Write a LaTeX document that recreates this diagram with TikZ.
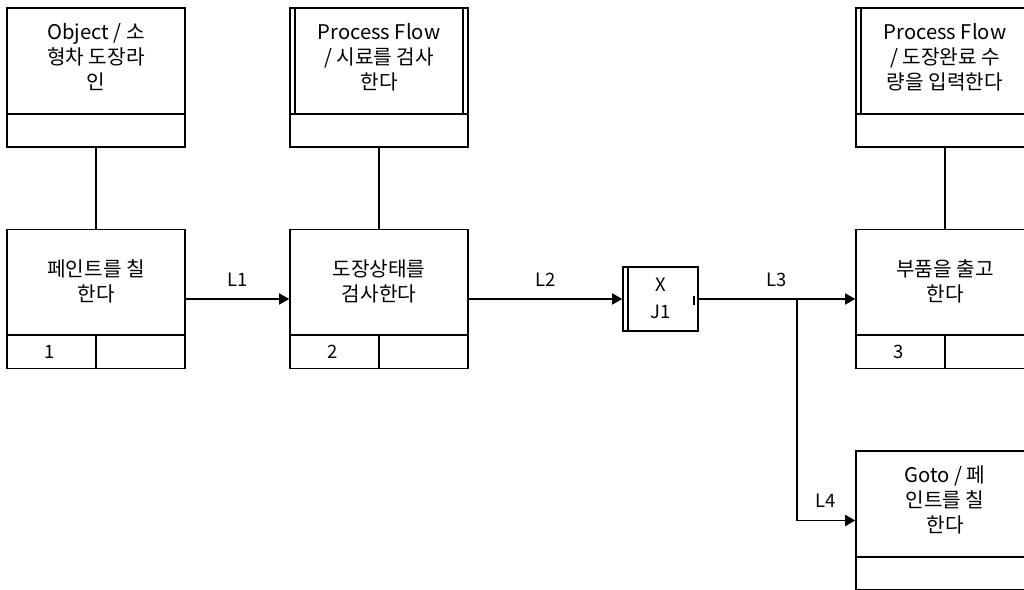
\documentclass[tikz,border=0pt]{standalone}
\usepackage{fontspec}
\setmainfont{Noto Sans CJK KR}
\usetikzlibrary{arrows.meta, positioning, calc}

\begin{document}
\begin{tikzpicture}[
    x=0.02cm, y=-0.02cm,
    >={Triangle[length=0.2cm, width=0.22cm]},
    every node/.style={font=\fontsize{11.5}{14.2}\selectfont},
]
% ============================================================
% Styles
% ============================================================
\tikzset{
    unitbox/.style={
        draw,
        line width=0.9pt,
        minimum width=3.56cm,
        minimum height=2.78cm,
        inner sep=0pt,
    },
    junction/.style={draw, line width=0.9pt, minimum width=1.5cm, minimum height=1.28cm, inner sep=0pt},
    title/.style={align=center},
    tag/.style={font=\fontsize{10.5}{12}\selectfont},
    rule/.style={line width=0.9pt},
    link/.style={->, line width=0.9pt},
}
\def\strip{34}
\def\inset{6}

% page (pixel units, y down)
\clip (0,0) rectangle (1024,590);
\fill[white] (0,0) rectangle (1024,590);

% ============================================================
% Top row: referenced objects / process flows
% ============================================================
% Object
\node[unitbox] (obj) at (96, 77.5) {};
\draw[rule] ($(obj.south west)+(0,-\strip)$) -- ($(obj.south east)+(0,-\strip)$);
\node[title] at ($(obj.north)+(0,50)$) {Object / 소\\형차 도장라\\인};
% Process Flow 1
\node[unitbox] (pf1) at (379, 77.5) {};
\draw[rule] ($(pf1.south west)+(0,-\strip)$) -- ($(pf1.south east)+(0,-\strip)$);
\draw[rule] ($(pf1.north west)+(\inset,0)$) -- ($(pf1.south west)+(\inset,-\strip)$);
\draw[rule] ($(pf1.north east)+(-\inset,0)$) -- ($(pf1.south east)+(-\inset,-\strip)$);
\node[title] at ($(pf1.north)+(0,50)$) {Process Flow\\/ 시료를 검사\\한다};
% Process Flow 2
\node[unitbox] (pf2) at (945, 77.5) {};
\draw[rule] ($(pf2.south west)+(0,-\strip)$) -- ($(pf2.south east)+(0,-\strip)$);
\draw[rule] ($(pf2.north west)+(\inset,0)$) -- ($(pf2.south west)+(\inset,-\strip)$);
\draw[rule] ($(pf2.north east)+(-\inset,0)$) -- ($(pf2.south east)+(-\inset,-\strip)$);
\node[title] at ($(pf2.north)+(0,50)$) {Process Flow\\/ 도장완료 수\\량을 입력한다};

% ============================================================
% Middle row: units of behaviour
% ============================================================
% Box 1
\node[unitbox] (b1) at (96, 299) {};
\draw[rule] ($(b1.south west)+(0,-\strip)$) -- ($(b1.south east)+(0,-\strip)$);
\draw[rule] ($(b1.south)+(0,-\strip)$) -- (b1.south);
\node[title] at ($(b1.north)+(0,52.5)$) {페인트를 칠\\한다};
\node[tag] at ($(b1.south)+(-46,-17)$) {1};
% Box 2
\node[unitbox] (b2) at (379, 299) {};
\draw[rule] ($(b2.south west)+(0,-\strip)$) -- ($(b2.south east)+(0,-\strip)$);
\draw[rule] ($(b2.south)+(0,-\strip)$) -- (b2.south);
\node[title] at ($(b2.north)+(0,52.5)$) {도장상태를\\검사한다};
\node[tag] at ($(b2.south)+(-46,-17)$) {2};
% Junction J1
\node[junction] (j1) at (660.5, 299) {};
\draw[rule] ($(j1.north west)+(\inset,0)$) -- ($(j1.south west)+(\inset,0)$);
\draw[rule] ($(j1.east)+(-5,-3)$) -- ($(j1.east)+(-5,6)$);
\node[tag] at ($(j1.center)+(0,-14)$) {X};
\node[tag] at ($(j1.center)+(0,13)$) {J1};
% Box 3
\node[unitbox] (b3) at (945, 299) {};
\draw[rule] ($(b3.south west)+(0,-\strip)$) -- ($(b3.south east)+(0,-\strip)$);
\draw[rule] ($(b3.south)+(0,-\strip)$) -- (b3.south);
\node[title] at ($(b3.north)+(0,52.5)$) {부품을 출고\\한다};
\node[tag] at ($(b3.south)+(-46,-17)$) {3};

% --- Bottom: goto ---
\node[unitbox] (goto) at (945, 520.5) {};
\draw[rule] ($(goto.south west)+(0,-\strip)$) -- ($(goto.south east)+(0,-\strip)$);
\node[title] at ($(goto.north)+(0,50)$) {Goto / 페\\인트를 칠\\한다};

% ============================================================
% Links
% ============================================================
\foreach \i/\j in {obj/b1, pf1/b2, pf2/b3} {
    \draw[rule] (\i) -- (\j);
}
\draw[link] (b1) -- node[tag, above=0.12cm] {L1} (b2);
\draw[link] (b2) -- node[tag, above=0.12cm] {L2} (j1);
\draw[link] (j1) -- node[tag, above=0.12cm] {L3} (b3);
\coordinate (split) at ($(j1.east)+(98,0)$);
\draw[link] (split) |- node[tag, pos=0.75, above=0.12cm] {L4} (goto.west);
\end{tikzpicture}
\end{document}
